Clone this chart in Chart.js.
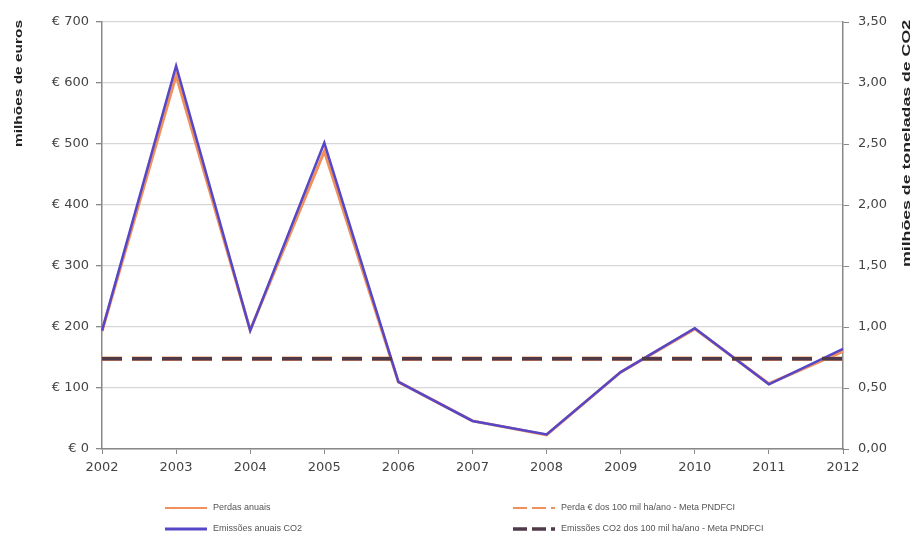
<!DOCTYPE html>
<html>
<head>
<meta charset="utf-8">
<script src="https://cdn.jsdelivr.net/npm/chart.js@4.4.1/dist/chart.umd.min.js"></script>
<style>
  html, body { margin: 0; padding: 0; background: #ffffff; }
  #wrap { position: relative; width: 920px; height: 538px; }
</style>
</head>
<body>
<div id="wrap"><canvas id="chart" width="920" height="538"></canvas></div>
<script>
// Years on the horizontal axis
const years = ['2002','2003','2004','2005','2006','2007','2008','2009','2010','2011','2012'];
// Annual losses, thousands of euros
const perdasAnuais = [193, 612, 195, 488, 110, 46, 23, 126, 197, 107, 160];
// Annual CO2 emissions, thousands of tonnes
const emissoesAnuais = [0.97, 3.14, 0.97, 2.51, 0.55, 0.23, 0.12, 0.63, 0.99, 0.53, 0.82];
// PNDFCI targets for 100 thousand ha/year
const metaPerda = 148;
const metaEmissoes = 0.74;

const metaPerdaLine = years.map(() => metaPerda);
const metaEmissoesLine = years.map(() => metaEmissoes);

const FONT = '"Liberation Sans", Arial, sans-serif';
const TICK_FONT = '"DejaVu Sans", "Liberation Sans", sans-serif';
const ORANGE = '#f0905a';
const BLUE = '#5646c8';
const DARK = '#4e3a48';

// Draws a rotated title reading bottom-to-top, stretched to a given length
function drawTitle(ctx, text, x, yTop, length) {
  ctx.save();
  ctx.fillStyle = '#222';
  ctx.font = 'bold 11px ' + FONT;
  ctx.textAlign = 'left';
  ctx.textBaseline = 'middle';
  const w = ctx.measureText(text).width;
  ctx.translate(x, yTop + length);
  ctx.rotate(-Math.PI / 2);
  ctx.scale(length / w, 1);
  ctx.fillText(text, 0, 0);
  ctx.restore();
}

const axisTitles = {
  id: 'axisTitles',
  afterDraw(chart) {
    drawTitle(chart.ctx, 'milhões de euros', 19, 20, 127);
    drawTitle(chart.ctx, 'milhões de toneladas de CO2', 907, 20, 247);
  }
};

// Two-column legend under the plot
const bottomLegend = {
  id: 'bottomLegend',
  afterDraw(chart) {
    const ctx = chart.ctx;
    const spots = [
      { x: 165, y: 508 },
      { x: 165, y: 529 },
      { x: 513, y: 508 },
      { x: 513, y: 529 }
    ];
    chart.data.datasets.forEach((ds, i) => {
      const p = spots[i];
      ctx.save();
      ctx.strokeStyle = ds.borderColor;
      ctx.lineWidth = ds.legendWidth;
      ctx.setLineDash(ds.borderDash && ds.borderDash.length ? [14, 5] : []);
      ctx.beginPath();
      ctx.moveTo(p.x, p.y);
      ctx.lineTo(p.x + 42, p.y);
      ctx.stroke();
      ctx.setLineDash([]);
      ctx.fillStyle = '#555';
      ctx.font = '9px ' + FONT;
      ctx.textAlign = 'left';
      ctx.textBaseline = 'middle';
      ctx.fillText(ds.label, p.x + 48, p.y);
      ctx.restore();
    });
  }
};

new Chart(document.getElementById('chart'), {
  type: 'line',
  data: {
    labels: years,
    datasets: [
      {
        label: 'Perdas anuais',
        data: perdasAnuais,
        yAxisID: 'y',
        borderColor: ORANGE,
        borderWidth: 3,
        legendWidth: 2,
        pointRadius: 0,
        tension: 0,
        order: 4
      },
      {
        label: 'Emissões anuais CO2',
        data: emissoesAnuais,
        yAxisID: 'y1',
        borderColor: BLUE,
        borderWidth: 2.5,
        legendWidth: 3,
        pointRadius: 0,
        tension: 0,
        order: 2
      },
      {
        label: 'Perda € dos 100 mil ha/ano - Meta PNDFCI',
        data: metaPerdaLine,
        yAxisID: 'y',
        borderColor: ORANGE,
        borderWidth: 4.5,
        borderDash: [20, 10],
        legendWidth: 2,
        pointRadius: 0,
        order: 3
      },
      {
        label: 'Emissões CO2 dos 100 mil ha/ano - Meta PNDFCI',
        data: metaEmissoesLine,
        yAxisID: 'y1',
        borderColor: DARK,
        borderWidth: 3.5,
        borderDash: [20, 10],
        legendWidth: 3.5,
        pointRadius: 0,
        order: 1
      }
    ]
  },
  options: {
    responsive: false,
    animation: false,
    layout: { padding: { top: 22, left: 0, right: 0, bottom: 0 } },
    plugins: {
      legend: { display: false },
      tooltip: { enabled: false }
    },
    scales: {
      x: {
        offset: false,
        afterFit(s) { s.height = 89; },
        grid: { display: true, drawOnChartArea: false, drawTicks: true, tickLength: 5, color: '#888' },
        border: { display: true, color: '#888', width: 1.5 },
        ticks: { color: '#444', font: { family: TICK_FONT, size: 13 }, padding: 6, maxRotation: 0, autoSkip: false }
      },
      y: {
        position: 'left',
        min: 0,
        max: 700,
        afterFit(s) { s.width = 102; },
        grid: { color: '#d6d6d6', lineWidth: 1.3, tickColor: '#888', tickLength: 6 },
        border: { display: true, color: '#888', width: 1.5 },
        ticks: {
          stepSize: 100,
          color: '#444',
          padding: 7,
          font: { family: TICK_FONT, size: 13 },
          callback: (v) => '€ ' + v
        }
      },
      y1: {
        position: 'right',
        min: 0,
        max: 3.5,
        afterFit(s) { s.width = 77; },
        grid: { drawOnChartArea: false, tickColor: '#888', tickLength: 6 },
        border: { display: true, color: '#888', width: 1.5 },
        ticks: {
          stepSize: 0.5,
          color: '#444',
          padding: 9,
          font: { family: TICK_FONT, size: 13 },
          callback: (v) => v.toFixed(2).replace('.', ',')
        }
      }
    }
  },
  plugins: [axisTitles, bottomLegend]
});
</script>
</body>
</html>
